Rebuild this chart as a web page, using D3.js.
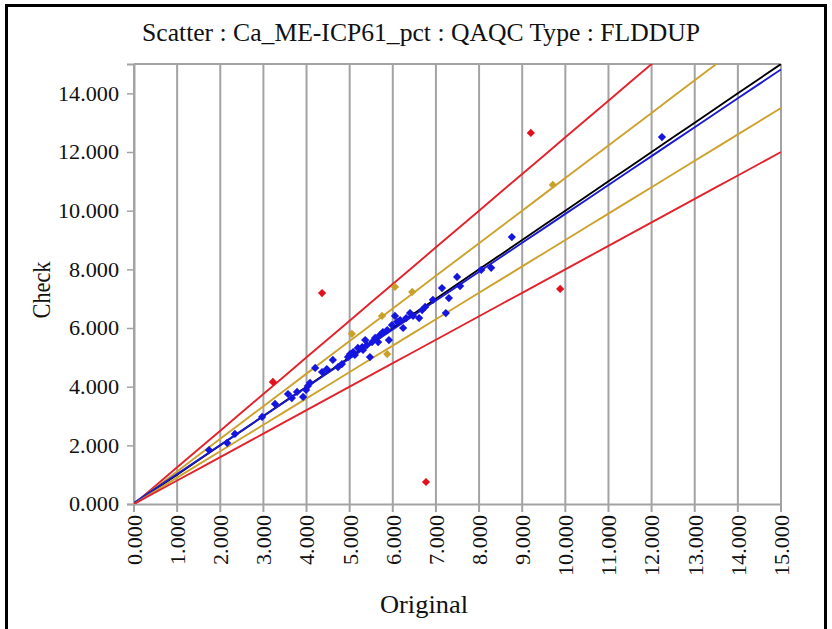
<!DOCTYPE html>
<html>
<head>
<meta charset="utf-8">
<script src="https://cdn.jsdelivr.net/npm/d3@7"></script>
<style>
  html, body { margin: 0; padding: 0; background: #fff; }
  svg { display: block; }
  text { font-family: "Liberation Serif", "Times New Roman", serif; fill: #111; }
</style>
</head>
<body>
<svg id="chart" width="832" height="629"></svg>
<script>
// ---------------- data ----------------
const titleText = "Scatter : Ca_ME-ICP61_pct : QAQC Type : FLDDUP";
const xTitle = "Original";
const yTitle = "Check";
const xTickValues = [0,1,2,3,4,5,6,7,8,9,10,11,12,13,14,15];
const yTickValues = [0,2,4,6,8,10,12,14];

// within ±10% (blue)
const blueX = [1.74,2.16,2.34,2.97,3.27,3.57,3.66,3.78,3.92,3.99,4.03,4.08,4.20,4.36,4.47,4.61,4.73,4.82,4.96,5.01,5.08,5.12,5.19,5.29,5.31,5.36,5.40,5.47,5.52,5.59,5.66,5.70,5.77,5.87,5.91,5.98,6.05,6.10,6.17,6.24,6.31,6.40,6.47,6.61,6.68,6.75,6.93,7.14,7.23,7.30,7.49,7.56,8.05,8.28,8.76,12.24];
const blueY = [1.84,2.08,2.39,2.97,3.41,3.75,3.61,3.82,3.65,3.89,4.02,4.13,4.64,4.50,4.60,4.91,4.67,4.77,5.01,5.11,5.18,5.08,5.32,5.35,5.25,5.59,5.42,5.01,5.52,5.66,5.52,5.76,5.86,5.93,5.59,6.10,6.41,6.21,6.27,6.00,6.34,6.51,6.41,6.34,6.61,6.72,6.96,7.36,6.51,7.02,7.74,7.43,7.98,8.05,9.10,12.51];
// between 10% and 20% (gold)
const goldX = [5.05,5.75,5.87,6.05,6.45,9.71];
const goldY = [5.80,6.41,5.11,7.40,7.23,10.88];
// beyond 20% (red)
const redX = [3.22,4.36,6.77,9.20,9.88];
const redY = [4.16,7.19,0.75,12.65,7.33];

// reference lines: y = intercept + slope * x
const lineNames   = ["red+20%","gold+10%","one-to-one","regression","gold-10%","red-20%"];
const lineSlopes  = [1.25, 1.1111, 1.0, 0.985, 0.9, 0.8];
const lineIntercepts = [0, 0, 0, 0.04, 0, 0];
const lineColors  = ["#e3222b","#cda22c","#000000","#1a1ad0","#cda22c","#e3222b"];

// ---------------- layout ----------------
const FONT = "Liberation Serif, Times New Roman, serif";
const svg = d3.select("#chart");
const L = 134, R = 781, T = 64, B = 504;
const x = d3.scaleLinear().domain([0,15]).range([L,R]);
const y = d3.scaleLinear().domain([0,15]).range([B,T]);
const gridColor = "#a3a3a3";
const labelLen = s => s.replace(/[^0-9]/g,"").length * 11 + 6;

svg.append("rect").attr("x",0).attr("y",0).attr("width",832).attr("height",629).attr("fill","#fff");
// outer frame
svg.append("rect").attr("x",6.5).attr("y",5.5).attr("width",819).attr("height",640)
  .attr("fill","none").attr("stroke","#000").attr("stroke-width",3);

// clip
svg.append("defs").append("clipPath").attr("id","plotclip")
  .append("rect").attr("x",L).attr("y",T).attr("width",R-L).attr("height",B-T);

// vertical grid (extends below axis as ticks)
svg.append("g").selectAll("line").data(xTickValues).join("line")
  .attr("x1",d=>x(d)).attr("x2",d=>x(d)).attr("y1",T).attr("y2",B+8)
  .attr("stroke",gridColor).attr("stroke-width",2);

svg.append("line").attr("x1",L).attr("x2",R).attr("y1",T).attr("y2",T).attr("stroke",gridColor).attr("stroke-width",2);

// y axis
const yAxis = d3.axisLeft(y).tickValues(yTickValues).tickFormat(d3.format(".3f")).tickSize(7).tickPadding(8);
const gy = svg.append("g").attr("transform",`translate(${L},0)`).call(yAxis);
gy.attr("font-family", FONT);
gy.select(".domain").attr("stroke",gridColor).attr("stroke-width",2);
gy.selectAll(".tick line").attr("stroke",gridColor).attr("stroke-width",1.5);
gy.selectAll(".tick text").style("font-size","21px").style("font-family",FONT).attr("fill","#111")
  .attr("textLength", function(){ return labelLen(this.textContent); })
  .attr("lengthAdjust","spacingAndGlyphs");

// x axis
const xAxis = d3.axisBottom(x).tickValues(xTickValues).tickFormat(d3.format(".3f")).tickSize(0).tickPadding(0);
const gx = svg.append("g").attr("transform",`translate(0,${B})`).call(xAxis);
gx.attr("font-family", FONT);
gx.select(".domain").attr("stroke",gridColor).attr("stroke-width",2);
gx.selectAll(".tick text")
  .attr("transform","rotate(-90)")
  .attr("x",-11).attr("y",0).attr("dy","0.35em")
  .style("text-anchor","end")
  .style("font-size","21px").style("font-family",FONT).attr("fill","#111")
  .attr("textLength", function(){ return labelLen(this.textContent); })
  .attr("lengthAdjust","spacingAndGlyphs");

// reference lines
const lineData = lineNames.map((n,i)=>({name:n, s:lineSlopes[i], b:lineIntercepts[i], c:lineColors[i]}));
const gLines = svg.append("g").attr("clip-path","url(#plotclip)");
const lineGen = d3.line().x(d=>x(d[0])).y(d=>y(d[1]));
const xs = d3.range(0, 15.01, 0.5);
gLines.selectAll("path").data(lineData).join("path")
  .attr("d",d=>lineGen(xs.map(v=>[v, d.b + d.s*v])))
  .attr("fill","none").attr("stroke",d=>d.c).attr("stroke-width",1.9);

// points
const diamond = d3.symbol().type(d3.symbolSquare).size(34);
function drawPoints(xsArr, ysArr, color){
  svg.append("g").selectAll("path").data(xsArr.map((v,i)=>[v, ysArr[i]])).join("path")
    .attr("d", diamond)
    .attr("transform", d=>`translate(${x(d[0])},${y(d[1])}) rotate(45)`)
    .attr("fill", color);
}
drawPoints(goldX, goldY, "#c9a02a");
drawPoints(redX, redY, "#e3101e");
drawPoints(blueX, blueY, "#1515e0");

// titles
svg.append("text").attr("x",421).attr("y",41).attr("text-anchor","middle")
  .style("font-family",FONT).style("font-size","25px")
  .attr("textLength",558).attr("lengthAdjust","spacingAndGlyphs").text(titleText);
svg.append("text").attr("x",424).attr("y",613).attr("text-anchor","middle")
  .style("font-family",FONT).style("font-size","25px")
  .attr("textLength",88).attr("lengthAdjust","spacingAndGlyphs").text(xTitle);
svg.append("text").attr("transform","translate(50,290) rotate(-90)").attr("text-anchor","middle")
  .style("font-family",FONT).style("font-size","25px")
  .attr("textLength",57).attr("lengthAdjust","spacingAndGlyphs").text(yTitle);
</script>
</body>
</html>
